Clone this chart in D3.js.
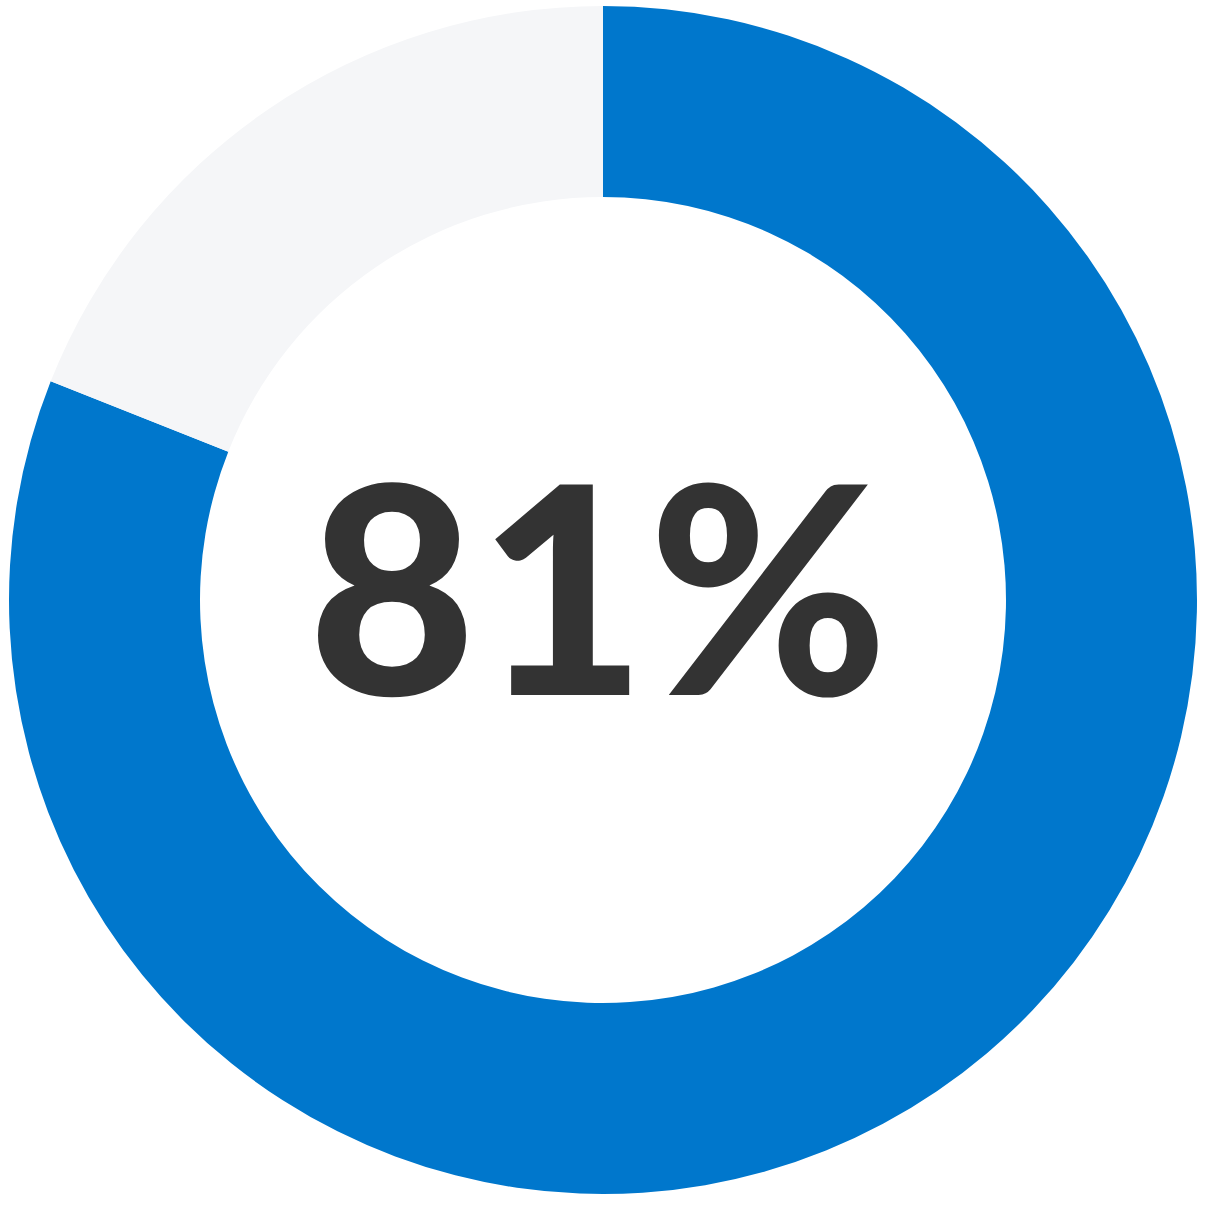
<!DOCTYPE html>
<html>
<head>
<meta charset="utf-8">
<script src="https://cdn.jsdelivr.net/npm/d3@7"></script>
<style>
  html, body { margin: 0; padding: 0; background: #fff; }
</style>
</head>
<body>
<div id="chart"></div>
<script>
// share of respondents
const labels = ["Yes", "Other"];
const values = [81, 19];
const colors = ["#0077CC", "#F5F6F8"];

const width = 1210, height = 1207;
const cx = 603, cy = 600;
const outerR = 594, innerR = 403;

const svg = d3.select("#chart").append("svg")
    .attr("width", width)
    .attr("height", height);

const g = svg.append("g")
    .attr("transform", "translate(" + cx + "," + cy + ")");

const pie = d3.pie().sort(null).value(d => d);
const arc = d3.arc().innerRadius(innerR).outerRadius(outerR);

g.selectAll("path")
    .data(pie(values))
    .enter().append("path")
    .attr("d", arc)
    .attr("fill", (d, i) => colors[i]);

g.append("text")
    .attr("text-anchor", "middle")
    .attr("x", -4)
    .attr("y", 95)
    .style("font-family", "Lato, 'Open Sans', sans-serif")
    .style("font-weight", 900)
    .style("font-size", "290px")
    .style("letter-spacing", "2px")
    .style("fill", "#333333")
    .text(values[0] + "%");
</script>
</body>
</html>
